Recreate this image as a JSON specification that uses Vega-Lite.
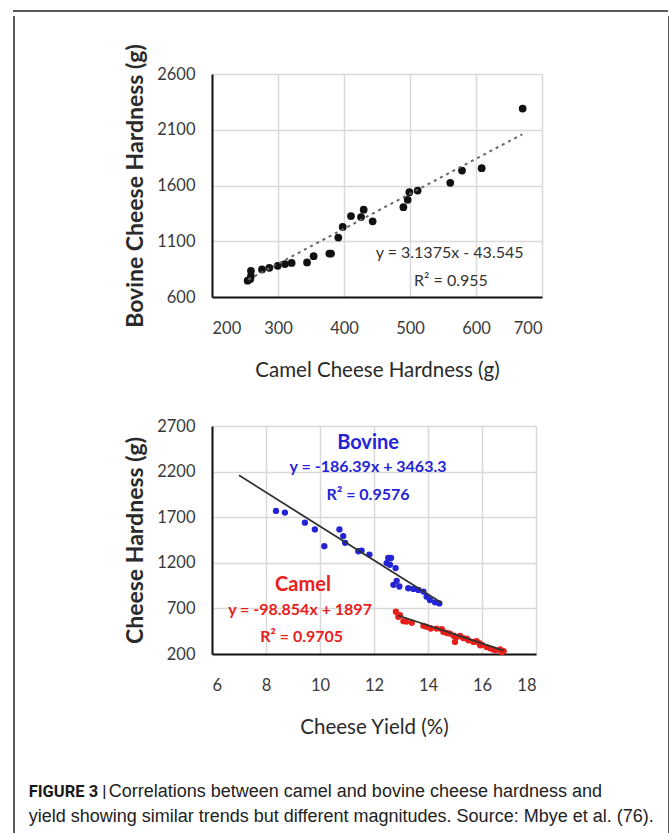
{
  "$schema": "https://vega.github.io/schema/vega-lite/v6.json",
  "background": "white",
  "padding": {"left": 13, "top": 5, "right": 0, "bottom": 0},
  "datasets": {
    "blank": [{"t": ""}],
    "hardness": [
      {"camel": 670.7, "bovine": 2290}, {"camel": 608.6, "bovine": 1755}, {"camel": 578.8, "bovine": 1734},
      {"camel": 561, "bovine": 1624}, {"camel": 511.6, "bovine": 1555}, {"camel": 499, "bovine": 1540},
      {"camel": 496.5, "bovine": 1472}, {"camel": 490, "bovine": 1406}, {"camel": 443.4, "bovine": 1279},
      {"camel": 429.8, "bovine": 1383}, {"camel": 425.8, "bovine": 1317}, {"camel": 410.6, "bovine": 1326},
      {"camel": 398, "bovine": 1228}, {"camel": 391.4, "bovine": 1133}, {"camel": 380.3, "bovine": 990},
      {"camel": 377.8, "bovine": 990}, {"camel": 354, "bovine": 966}, {"camel": 344, "bovine": 910},
      {"camel": 320.7, "bovine": 906}, {"camel": 310.6, "bovine": 895}, {"camel": 299.5, "bovine": 880},
      {"camel": 286.9, "bovine": 862}, {"camel": 275.8, "bovine": 847}, {"camel": 259, "bovine": 835},
      {"camel": 259, "bovine": 788}, {"camel": 254, "bovine": 746}, {"camel": 258, "bovine": 761}
    ],
    "trend1": [{"camel": 255, "bovine": 757}, {"camel": 670, "bovine": 2059}],
    "eq1": [
      {"camel": 560, "bovine": 993, "label": "y = 3.1375x - 43.545"},
      {"camel": 562, "bovine": 745, "label": "R² = 0.955"}
    ],
    "yield": [
      {"milk": "Bovine", "yield": 8.37, "hardness": 1769}, {"milk": "Bovine", "yield": 8.7, "hardness": 1751},
      {"milk": "Bovine", "yield": 9.44, "hardness": 1640}, {"milk": "Bovine", "yield": 9.81, "hardness": 1566},
      {"milk": "Bovine", "yield": 10.16, "hardness": 1382}, {"milk": "Bovine", "yield": 10.72, "hardness": 1566},
      {"milk": "Bovine", "yield": 10.86, "hardness": 1493}, {"milk": "Bovine", "yield": 10.93, "hardness": 1419},
      {"milk": "Bovine", "yield": 11.42, "hardness": 1327}, {"milk": "Bovine", "yield": 11.54, "hardness": 1334},
      {"milk": "Bovine", "yield": 11.83, "hardness": 1290}, {"milk": "Bovine", "yield": 12.47, "hardness": 1197},
      {"milk": "Bovine", "yield": 12.53, "hardness": 1253}, {"milk": "Bovine", "yield": 12.63, "hardness": 1253},
      {"milk": "Bovine", "yield": 12.59, "hardness": 1179}, {"milk": "Bovine", "yield": 12.8, "hardness": 1142},
      {"milk": "Bovine", "yield": 12.72, "hardness": 958}, {"milk": "Bovine", "yield": 12.84, "hardness": 1002},
      {"milk": "Bovine", "yield": 12.94, "hardness": 940}, {"milk": "Bovine", "yield": 13.27, "hardness": 921},
      {"milk": "Bovine", "yield": 13.46, "hardness": 914}, {"milk": "Bovine", "yield": 13.64, "hardness": 903},
      {"milk": "Bovine", "yield": 13.83, "hardness": 884}, {"milk": "Bovine", "yield": 13.95, "hardness": 829},
      {"milk": "Bovine", "yield": 14.07, "hardness": 792}, {"milk": "Bovine", "yield": 14.26, "hardness": 767},
      {"milk": "Bovine", "yield": 14.42, "hardness": 755},
      {"milk": "Camel", "yield": 12.81, "hardness": 663}, {"milk": "Camel", "yield": 12.9, "hardness": 608},
      {"milk": "Camel", "yield": 12.96, "hardness": 626}, {"milk": "Camel", "yield": 13.09, "hardness": 560},
      {"milk": "Camel", "yield": 13.2, "hardness": 555}, {"milk": "Camel", "yield": 13.4, "hardness": 542},
      {"milk": "Camel", "yield": 13.83, "hardness": 509}, {"milk": "Camel", "yield": 13.95, "hardness": 498},
      {"milk": "Camel", "yield": 14.1, "hardness": 480}, {"milk": "Camel", "yield": 14.32, "hardness": 479},
      {"milk": "Camel", "yield": 14.51, "hardness": 472}, {"milk": "Camel", "yield": 14.57, "hardness": 442},
      {"milk": "Camel", "yield": 14.7, "hardness": 430}, {"milk": "Camel", "yield": 14.81, "hardness": 424},
      {"milk": "Camel", "yield": 14.95, "hardness": 400}, {"milk": "Camel", "yield": 15.0, "hardness": 332},
      {"milk": "Camel", "yield": 15.06, "hardness": 387}, {"milk": "Camel", "yield": 15.19, "hardness": 398},
      {"milk": "Camel", "yield": 15.3, "hardness": 375}, {"milk": "Camel", "yield": 15.43, "hardness": 369},
      {"milk": "Camel", "yield": 15.5, "hardness": 350}, {"milk": "Camel", "yield": 15.68, "hardness": 332},
      {"milk": "Camel", "yield": 15.8, "hardness": 340}, {"milk": "Camel", "yield": 15.9, "hardness": 320},
      {"milk": "Camel", "yield": 15.93, "hardness": 295}, {"milk": "Camel", "yield": 16.0, "hardness": 300},
      {"milk": "Camel", "yield": 16.17, "hardness": 276}, {"milk": "Camel", "yield": 16.3, "hardness": 262},
      {"milk": "Camel", "yield": 16.42, "hardness": 250}, {"milk": "Camel", "yield": 16.5, "hardness": 240},
      {"milk": "Camel", "yield": 16.67, "hardness": 250}, {"milk": "Camel", "yield": 16.73, "hardness": 221},
      {"milk": "Camel", "yield": 16.8, "hardness": 230}
    ],
    "trend2": [
      {"milk": "Bovine", "yield": 7.0, "hardness": 2159}, {"milk": "Bovine", "yield": 14.5, "hardness": 761},
      {"milk": "Camel", "yield": 12.9, "hardness": 622}, {"milk": "Camel", "yield": 16.8, "hardness": 236}
    ],
    "names": [
      {"milk": "Bovine", "yield": 11.78, "hardness": 2517, "label": "Bovine"},
      {"milk": "Camel", "yield": 9.37, "hardness": 958, "label": "Camel"}
    ],
    "eq2": [
      {"milk": "Bovine", "yield": 11.78, "hardness": 2253, "label": "y = -186.39x + 3463.3"},
      {"milk": "Bovine", "yield": 11.78, "hardness": 1946, "label": "R² = 0.9576"},
      {"milk": "Camel", "yield": 9.26, "hardness": 683, "label": "y = -98.854x + 1897"},
      {"milk": "Camel", "yield": 9.32, "hardness": 390, "label": "R² = 0.9705"}
    ]
  },
  "spacing": 0,
  "vconcat": [
    {
      "width": 655, "height": 2,
      "view": {"stroke": null, "fill": "#5a5a5a"},
      "data": {"name": "blank"}, "mark": {"type": "text"}, "encoding": {"text": {"field": "t"}}
    },
    {
      "spacing": 14,
      "hconcat": [
        {
          "spacing": 13,
          "hconcat": [
            {
              "width": 2, "height": 840,
              "view": {"stroke": null, "fill": "#5a5a5a"},
              "data": {"name": "blank"}, "mark": {"type": "text"}, "encoding": {"text": {"field": "t"}}
            },
            {
              "spacing": 14,
              "vconcat": [
                {
                  "width": 1, "height": 13,
                  "data": {"name": "blank"}, "mark": {"type": "text"}, "encoding": {"text": {"field": "t"}}
                },
                {
                  "title": {
                    "text": "yield showing similar trends but different magnitudes. Source: Mbye et al. (76).",
                    "orient": "bottom", "anchor": "start", "frame": "bounds", "offset": 7,
                    "fontSize": 18, "fontWeight": "normal", "color": "#222222",
                    "font": "Liberation Sans, Arial, sans-serif"
                  },
                  "vconcat": [
                    {
                      "title": {
                        "text": "Correlations between camel and bovine cheese hardness and",
                        "orient": "bottom", "anchor": "start", "frame": "bounds", "offset": -17.5, "dx": 80,
                        "fontSize": 18, "fontWeight": "normal", "color": "#222222",
                        "font": "Liberation Sans, Arial, sans-serif"
                      },
                      "vconcat": [
                        {
                          "spacing": 129,
                          "bounds": "flush",
                          "title": {
                            "text": "FIGURE 3 |",
                            "orient": "bottom", "anchor": "start", "frame": "bounds", "offset": 46, "dx": -96,
                            "fontSize": 16.5, "fontWeight": "bold", "color": "#1a1a1a",
                            "font": "Roboto, Liberation Sans, sans-serif"
                          },
                          "vconcat": [
                            {
                              "width": 330,
                              "height": 223,
                              "encoding": {
                                "x": {"field": "camel", "type": "quantitative",
                                      "scale": {"domain": [200, 700], "nice": false, "zero": false},
                                      "axis": {"values": [200, 300, 400, 500, 600, 700], "title": "Camel Cheese Hardness (g)"}},
                                "y": {"field": "bovine", "type": "quantitative",
                                      "scale": {"domain": [600, 2600], "nice": false, "zero": false},
                                      "axis": {"values": [600, 1100, 1600, 2100, 2600], "title": "Bovine Cheese Hardness (g)"}}
                              },
                              "layer": [
                                {"data": {"name": "hardness"}, "mark": {"type": "circle", "size": 60, "opacity": 1, "color": "#111111"}},
                                {"data": {"name": "trend1"}, "mark": {"type": "line", "color": "#666666", "strokeWidth": 2, "strokeDash": [3, 4]}},
                                {"data": {"name": "eq1"}, "mark": {"type": "text", "fontSize": 16, "color": "#333333", "font": "Lato"},
                                 "encoding": {"text": {"field": "label"}}}
                              ]
                            },
                            {
                              "width": 324,
                              "height": 228,
                              "encoding": {
                                "x": {"field": "yield", "type": "quantitative",
                                      "scale": {"domain": [6, 18], "nice": false, "zero": false},
                                      "axis": {"values": [6, 8, 10, 12, 14, 16, 18], "title": "Cheese Yield (%)"}},
                                "y": {"field": "hardness", "type": "quantitative",
                                      "scale": {"domain": [200, 2700], "nice": false, "zero": false},
                                      "axis": {"values": [200, 700, 1200, 1700, 2200, 2700], "title": "Cheese Hardness (g)"}},
                                "color": {"field": "milk", "type": "nominal",
                                          "scale": {"domain": ["Bovine", "Camel"], "range": ["#2424d6", "#e8201c"]}, "legend": null}
                              },
                              "layer": [
                                {"data": {"name": "yield"}, "mark": {"type": "circle", "size": 40, "opacity": 1}},
                                {"data": {"name": "trend2"}, "mark": {"type": "line", "color": "#2f3330", "strokeWidth": 1.8},
                                 "encoding": {"color": {"value": "#2f3330"}, "detail": {"field": "milk"}}},
                                {"data": {"name": "names"}, "mark": {"type": "text", "fontSize": 20, "fontWeight": "bold", "font": "Lato"},
                                 "encoding": {"text": {"field": "label"}}},
                                {"data": {"name": "eq2"}, "mark": {"type": "text", "fontSize": 16, "fontWeight": "bold", "font": "Lato"},
                                 "encoding": {"text": {"field": "label"}}}
                              ]
                            }
                          ]
                        }
                      ]
                    }
                  ]
                }
              ]
            }
          ]
        },
        {
          "width": 2, "height": 840,
          "view": {"stroke": null, "fill": "#5a5a5a"},
          "data": {"name": "blank"}, "mark": {"type": "text"}, "encoding": {"text": {"field": "t"}}
        }
      ]
    }
  ],
  "config": {
    "view": {"stroke": null},
    "axis": {
      "format": "d",
      "labelFont": "Lato",
      "labelFontSize": 16.5,
      "labelColor": "#3a3a3a",
      "titleFont": "Lato",
      "titleFontSize": 20,
      "titleColor": "#2a2a2a",
      "ticks": false,
      "domainColor": "#111111",
      "domainWidth": 2,
      "gridColor": "#d9d9d9",
      "gridWidth": 1.5
    },
    "axisX": {"labelPadding": 23, "titlePadding": 24, "titleFontWeight": "normal", "titleFontSize": 20.5},
    "axisY": {"labelPadding": 17, "titlePadding": 9, "titleFontWeight": "bold", "titleFontSize": 23}
  }
}
